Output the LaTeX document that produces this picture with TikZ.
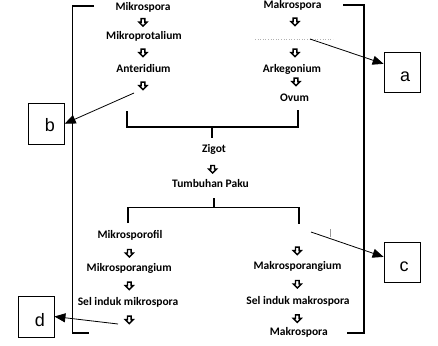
\documentclass[tikz,border=0pt]{standalone}
\usepackage{fontspec}
\newfontfamily\labf{Carlito}
\newfontfamily\boxf{Liberation Sans}
\usetikzlibrary{shapes.arrows,arrows.meta,calc}
\begin{document}
\begin{tikzpicture}[x=1pt,y=-1pt,
 lbl/.style={font=\labf\bfseries\fontsize{11.5}{13}\selectfont, inner sep=0pt, anchor=base},
 darr/.style={single arrow, draw, shape border rotate=270, line width=1.4pt, minimum height=7.5pt, minimum width=8pt, inner sep=1pt, single arrow head extend=2pt, single arrow head indent=0pt},
 brk/.style={line width=1.3pt},
 box/.style={draw, line width=0.8pt, minimum width=36pt, inner sep=0pt},
 boxt/.style={font=\boxf\fontsize{18}{20}\selectfont, inner sep=0pt},
 callout/.style={line width=0.8pt, -{Triangle[length=11pt,width=9pt]}},
 residue/.style={gray!60, dotted, line width=0.6pt}]
\useasboundingbox (0,0) rectangle (438,345);
% outer brackets
\draw[brk] (94,6) -- (72.5,6) -- (72.5,333) -- (89,333);
\draw[brk] (343,5) -- (364,5) -- (364,333) -- (347,333);
% upper left column
\node[lbl] (mis) at (143,10.5) {Mikrospora};
\node[darr] (u1) at (143,21.5) {};
\node[lbl] (mip) at (144,39) {Mikroprotalium};
\node[darr] (u2) at (143,52) {};
\node[lbl] (ant) at (143.5,72.5) {Anteridium};
\node[darr] (u3) at (143,85) {};
% upper right column
\node[lbl] (mas) at (292.5,8.5) {Makrospora};
\node[darr] (v1) at (295,21) {};
\draw[residue] (255,39) -- (333,39);
\node[darr] (v2) at (295,52) {};
\node[lbl] (ark) at (292,72.7) {Arkegonium};
\node[darr] (v3) at (296,81) {};
\node[lbl] (ovu) at (294.5,101.7) {Ovum};
% join
\draw[brk] (127,111) -- (127,127) -- (298,127) -- (298,110);
\draw[brk] (212,127) -- (212,138);
\node[lbl] (zig) at (214,152.3) {Zigot};
\node[darr] (z1) at (212.7,168.3) {};
\node[lbl] (tum) at (210.5,187.7) {Tumbuhan Paku};
\draw[brk] (214,198) -- (214,207.5);
\draw[brk] (128,223) -- (128,207.5) -- (299,207.5) -- (299,224);
% lower left column
\node[lbl] (mpf) at (130,238.3) {Mikrosporofil};
\node[darr] (w1) at (129.3,252.3) {};
\node[lbl] (mpg) at (129.2,271) {Mikrosporangium};
\node[darr] (w2) at (129.3,285) {};
\node[lbl] (sim) at (128,305) {Sel induk mikrospora};
\node[darr] (w3) at (129.3,319) {};
% lower right column
\draw[gray!80, line width=0.8pt] (330,229) -- (330,237);
\node[darr] (x1) at (297.3,250) {};
\node[lbl] (mag) at (297.5,269.3) {Makrosporangium};
\node[darr] (x2) at (297.3,283.3) {};
\node[lbl] (sia) at (298,304) {Sel induk makrospora};
\node[darr] (x3) at (297.3,317.7) {};
\node[lbl] (mas2) at (298.8,335) {Makrospora};
% boxes
\node[box, minimum height=40pt] (A) at (402,72) {};
\node[boxt] (At) at (405,76.5) {a};
\node[box, minimum height=41pt] (B) at (46.3,123.7) {};
\node[boxt] (Bt) at (50,125.5) {b};
\node[box, minimum height=40pt] (C) at (402,262) {};
\node[boxt] (Ct) at (404,266.7) {c};
\node[box, minimum height=41pt] (D) at (36,316.5) {};
\node[boxt] (Dt) at (40,320.3) {d};
% callout arrows
\coordinate (sa) at (310,39);
\coordinate (sb) at (134,93);
\coordinate (sc) at (311,232);
\coordinate (sd) at (118,324);
\draw[callout] (sa) -- ($(A.north west)!0.3!(A.south west)$);
\draw[callout] (sb) -- (B.east);
\draw[callout] (sc) -- ($(C.north west)!0.375!(C.south west)$);
\draw[callout] (sd) -- (D.east);
\end{tikzpicture}
\end{document}
